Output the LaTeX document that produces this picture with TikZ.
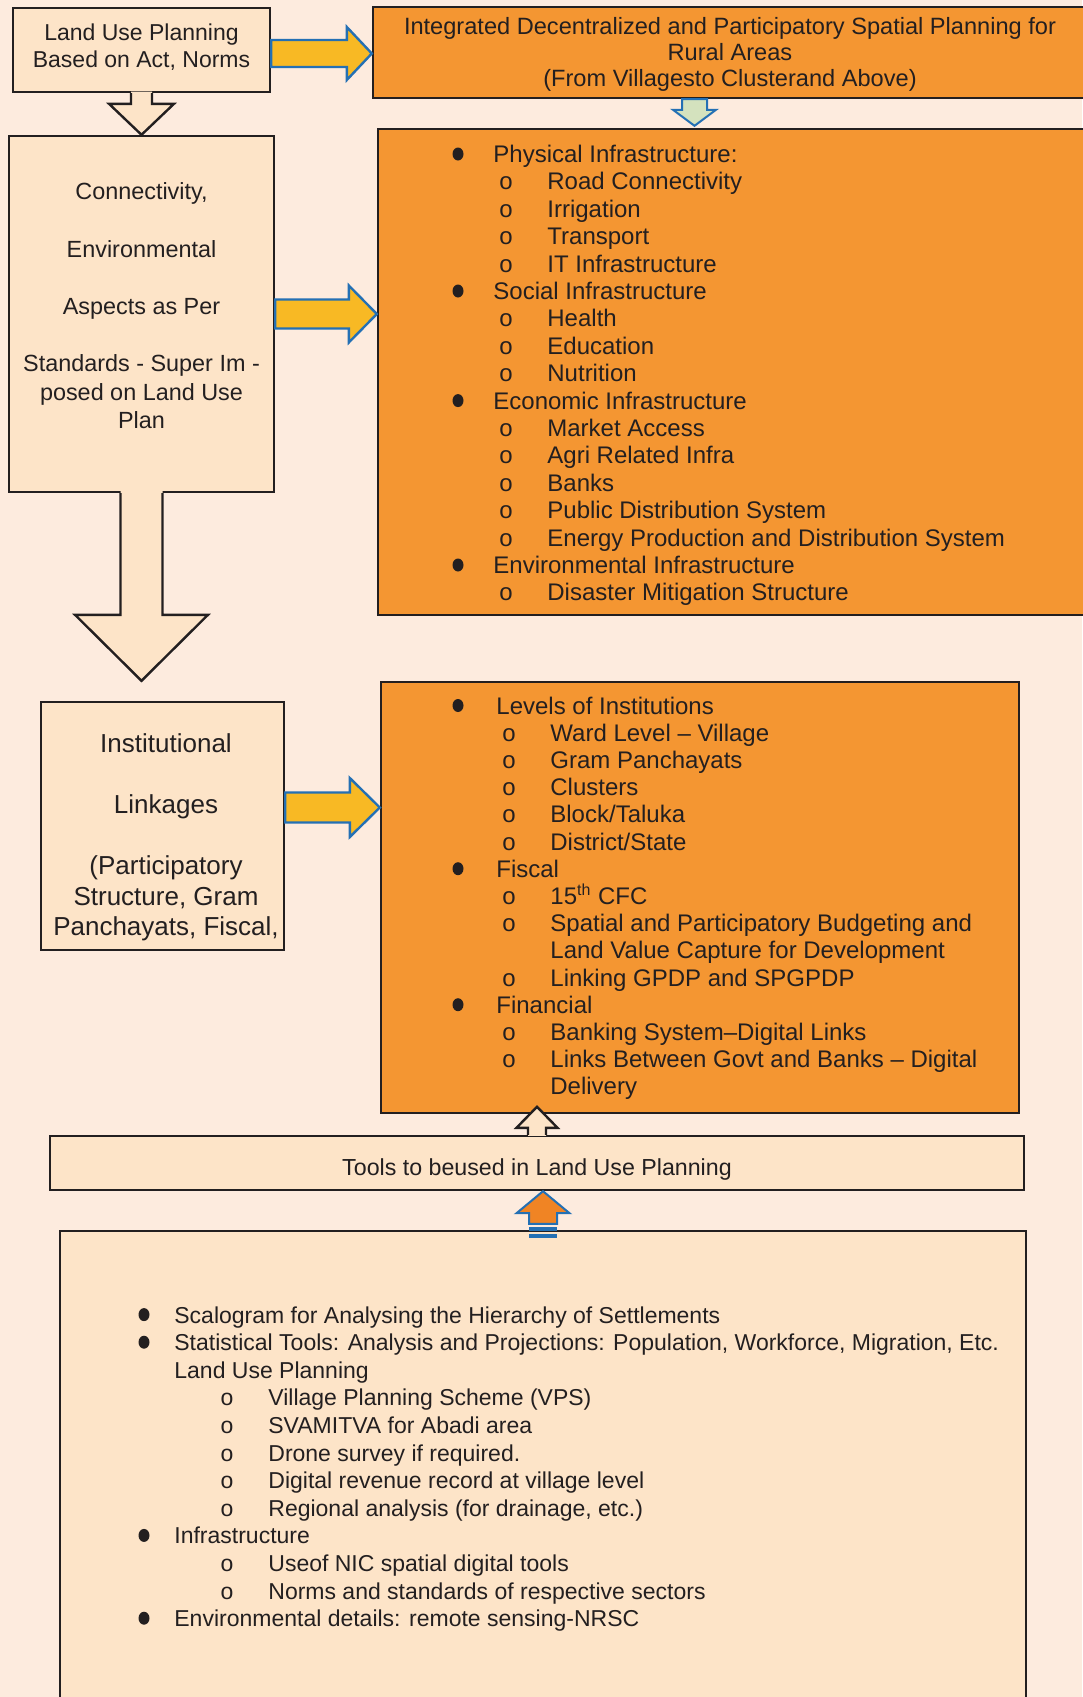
\documentclass[tikz,border=0pt]{standalone}
\usepackage{fontspec}
\setmainfont{Liberation Sans}
\usetikzlibrary{calc}

\definecolor{pagepeach}{RGB}{253,235,222}
\definecolor{boxpeach}{RGB}{253,228,200}
\definecolor{orangefill}{RGB}{244,150,50}
\definecolor{edgedark}{RGB}{35,31,32}
\definecolor{textdark}{RGB}{35,31,32}
\definecolor{arrowyellow}{RGB}{248,185,36}
\definecolor{arrowblue}{RGB}{36,112,180}
\definecolor{arrowgreen}{RGB}{212,226,190}
\definecolor{arroworange}{RGB}{240,132,36}

\tikzset{
    lightbox/.style={draw=edgedark, fill=boxpeach, line width=1.2pt, inner sep=0pt}, % pale boxes
    orangebox/.style={draw=edgedark, fill=orangefill, line width=1.2pt, inner sep=0pt}, % coloured boxes
    boxtext/.style={text=textdark, align=center, inner sep=0pt},
    item/.style={text=textdark, inner sep=0pt, font=\fontsize{12}{14}\selectfont},
    yarrow/.style={fill=arrowyellow, draw=arrowblue, line width=1.2pt}, % side arrows
    garrow/.style={fill=arrowgreen, draw=arrowblue, line width=1pt},
    oarrow/.style={fill=arroworange, draw=arrowblue, line width=1pt},
    outl/.style={draw=edgedark, line width=1.2pt}, % outlined pale arrows
}

% right pointing block arrow: style, tail, tip, shaft half, head half, head length
\newcommand{\hblock}[6]{%
  \draw[#1] ($(#2)+(0,-#4)$) -- ($(#3)+(-#6,-#4)$) -- ($(#3)+(-#6,-#5)$) -- (#3)
    -- ($(#3)+(-#6,#5)$) -- ($(#3)+(-#6,#4)$) -- ($(#2)+(0,#4)$) -- cycle;}
% vertical block arrow, head length signed (positive = downwards)
\newcommand{\vblock}[6]{%
  \draw[#1] ($(#2)+(-#4,0)$) -- ($(#3)+({-#4},{-1*(#6)})$) -- ($(#3)+({-#5},{-1*(#6)})$) -- (#3)
    -- ($(#3)+({#5},{-1*(#6)})$) -- ($(#3)+({#4},{-1*(#6)})$) -- ($(#2)+(#4,0)$) -- cycle;}
% same, but the tail stays open into the box it leaves
\newcommand{\vopen}[5]{%
  \fill[boxpeach] ($(#1)+({-#3},{-0.05*(#5)})$) -- ($(#2)+({-#3},{-1*(#5)})$) -- ($(#2)+({-#4},{-1*(#5)})$) -- (#2)
    -- ($(#2)+({#4},{-1*(#5)})$) -- ($(#2)+({#3},{-1*(#5)})$) -- ($(#1)+({#3},{-0.05*(#5)})$) -- cycle;
  \draw[outl] ($(#1)+(-#3,0)$) -- ($(#2)+({-#3},{-1*(#5)})$) -- ($(#2)+({-#4},{-1*(#5)})$) -- (#2)
    -- ($(#2)+({#4},{-1*(#5)})$) -- ($(#2)+({#3},{-1*(#5)})$) -- ($(#1)+(#3,0)$);}
% one line of a list: name, level, y, bullet x, text x, o x, sub text x, text
\newcommand{\listrow}[8]{%
  \ifcase#2\relax
    \node[item, anchor=base west] (#1) at (#5,#3+8.5) {#8};
  \or
    \fill[textdark] (#4,#3) ellipse (5.5 and 6.5);
    \node[item, anchor=base west] (#1) at (#5,#3+8.5) {#8};
  \or
    \node[item, anchor=base] (#1-o) at (#6,#3+8.5) {o};
    \node[item, anchor=base west] (#1) at (#7,#3+8.5) {#8};
  \or
    \node[item, anchor=base west] (#1) at (#7,#3+8.5) {#8};
  \fi}

\begin{document}
\begin{tikzpicture}[x=0.5pt, y=-0.5pt]
\fill[pagepeach] (0,0) rectangle (1082,1697);
\useasboundingbox (0,0) rectangle (1082,1697);

% boxes
\node[lightbox, minimum width=128.5pt, minimum height=42pt] (lup) at (141.5,50) {};
\node[orangebox, minimum width=359.5pt, minimum height=45.5pt] (ispp) at (732.5,52.5) {};
\node[lightbox, minimum width=132.5pt, minimum height=178pt] (conn) at (141.5,314) {};
\node[orangebox, minimum width=357pt, minimum height=243pt] (phys) at (735,372) {};
\node[lightbox, minimum width=121.5pt, minimum height=124pt] (inst) at (162.5,826) {};
\node[orangebox, minimum width=319pt, minimum height=215.5pt] (levels) at (700,897.5) {};
\node[lightbox, minimum width=487pt, minimum height=27pt] (tools) at (537,1163) {};
\node[lightbox, minimum width=483pt, minimum height=239.5pt] (scal) at (543,1470.5) {};

% arrows
\coordinate (ya1) at ($(lup.east)+(0,3.5)$);
\coordinate (ya2) at ($(inst.east)+(0,-18.5)$);
\hblock{yarrow}{ya1}{ispp.west |- ya1}{13.5}{26.5}{25}
\hblock{yarrow}{conn.east}{phys.west |- conn.east}{14.5}{28.5}{28}
\hblock{yarrow}{ya2}{levels.west |- ya2}{15}{29.5}{30}
\coordinate (ga) at ($(ispp.south)+(-38,0)$);
\coordinate (gb) at ($(phys.north)+(-40.5,-2)$);
\vblock{garrow}{ga}{gb}{12.5}{21.5}{16}
\vopen{lup.south}{conn.north}{10.5}{32.5}{31}
\coordinate (bigtip) at (conn.south |- levels.north);
\vopen{conn.south}{bigtip}{21}{66.5}{66}
\coordinate (uptip) at ($(tools.north)+(0,-28)$);
\vopen{tools.north}{uptip}{9}{20.5}{-21}
\coordinate (oa) at ($(scal.north)+(0,-6)$);
\coordinate (ob) at (scal.north |- tools.south);
\vblock{oarrow}{oa}{ob}{14}{26.5}{-22}
\fill[arrowblue] ($(scal.north)+(-14,-3)$) rectangle ($(scal.north)+(14,1)$);
\fill[arrowblue] ($(scal.north)+(-14,4)$) rectangle ($(scal.north)+(14,8)$);

% box texts
\node[boxtext, font=\fontsize{11.5}{13.5}\selectfont] (lup-t) at ($(lup.center)+(0,-2.8)$)
  {Land Use Planning\\Based on Act, Norms};
\node[boxtext, font=\fontsize{11.8}{13}\selectfont] (ispp-t) at ($(ispp.center)+(-2.5,2)$)
  {Integrated Decentralized and Participatory Spatial Planning for\\Rural Areas\\(From Villagesto Clusterand Above)};
\node[boxtext, font=\fontsize{11.7}{14.3}\selectfont] (conn-t) at ($(conn.center)+(0,-8)$)
  {Connectivity,\\[14.3pt]Environmental\\[14.3pt]Aspects as Per\\[14.3pt]Standards - Super Im -\\posed on Land Use\\Plan};
\node[boxtext, font=\fontsize{13}{15.25}\selectfont] (inst-t) at ($(inst.center)+(3.5,11.5)$)
  {Institutional\\[15.25pt]Linkages\\[15.25pt](Participatory\\Structure, Gram\\Panchayats, Fiscal,};
\node[boxtext, font=\fontsize{11.6}{13.5}\selectfont] (tools-t) at ($(tools.center)+(0,6)$)
  {Tools to beused in Land Use Planning};

% infrastructure list
\foreach \lvl/\txt [count=\i from 0] in {1/Physical Infrastructure:, 2/Road Connectivity, 2/Irrigation,
    2/Transport, 2/IT Infrastructure, 1/Social Infrastructure, 2/Health, 2/Education, 2/Nutrition,
    1/Economic Infrastructure, 2/Market Access, 2/Agri Related Infra, 2/Banks, 2/Public Distribution System,
    2/Energy Production and Distribution System, 1/Environmental Infrastructure, 2/Disaster Mitigation Structure}{
  \pgfmathsetmacro\yy{154+27.4*\i}
  \listrow{phys-\i}{\lvl}{\yy}{458}{493}{506}{547}{\txt}
}

% institutions list
\foreach \lvl/\txt [count=\i from 0] in {1/Levels of Institutions, 2/Ward Level -- Village, 2/Gram Panchayats,
    2/Clusters, 2/{Block/Taluka}, 2/{District/State}, 1/Fiscal, 2/{15\textsuperscript{th} CFC},
    2/Spatial and Participatory Budgeting and, 3/Land Value Capture for Development, 2/Linking GPDP and SPGPDP,
    1/Financial, 2/Banking System--Digital Links, 2/Links Between Govt and Banks -- Digital, 3/Delivery}{
  \pgfmathsetmacro\yy{705.5+27.2*\i}
  \listrow{levels-\i}{\lvl}{\yy}{458}{496}{509}{550}{\txt}
}

% tools list
\begin{scope}[item/.append style={font=\fontsize{11.5}{14}\selectfont}]
\foreach \lvl/\txt [count=\i from 0] in {1/Scalogram for Analysing the Hierarchy of Settlements,
    1/{Statistical Tools: Analysis and Projections: Population, Workforce, Migration, Etc.},
    0/Land Use Planning, 2/Village Planning Scheme (VPS), 2/SVAMITVA for Abadi area,
    2/Drone survey if required., 2/Digital revenue record at village level,
    2/{Regional analysis (for drainage, etc.)}, 1/Infrastructure, 2/Useof NIC spatial digital tools,
    2/Norms and standards of respective sectors, 1/Environmental details: remote sensing-NRSC}{
  \pgfmathsetmacro\yy{1314.6+27.6*\i}
  \listrow{scal-\i}{\lvl}{\yy}{144}{174}{227}{268}{\txt}
}
\end{scope}
\end{tikzpicture}
\end{document}
